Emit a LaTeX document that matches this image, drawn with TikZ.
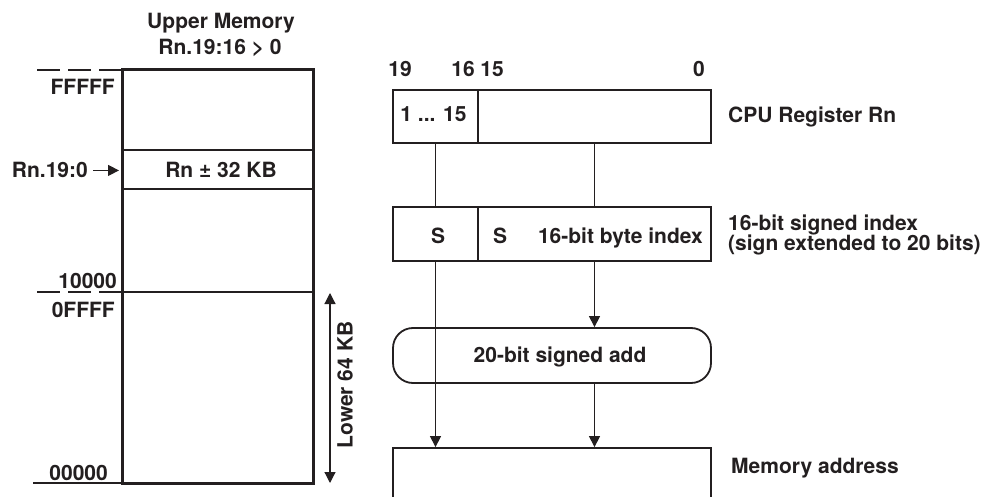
\documentclass[tikz,border=0pt]{standalone}
\usepackage{fontspec}
\setmainfont{TeX Gyre Heros}
\usetikzlibrary{arrows.meta,calc}
\definecolor{ink}{RGB}{35,31,32}
\begin{document}
\begin{tikzpicture}[x=1pt,y=-1pt,
  every node/.style={font=\fontsize{21}{24}\selectfont\bfseries, text=ink, inner sep=0pt},
  regbox/.style={draw=ink, line width=1.8pt, minimum height=53pt},
  ln/.style={draw=ink, line width=1.2pt},
  arr/.style={ln, -{Triangle[length=11pt,width=11pt]}},
  darr/.style={ln, {Triangle[length=11pt,width=11pt]}-{Triangle[length=11pt,width=11pt]}},
  dashln/.style={ln, dash pattern=on 23pt off 8pt}]
\useasboundingbox (0,0) rectangle (987,497);
\clip (0,0) rectangle (987,497);

% ---------- memory map ----------
\node[draw=ink, line width=3pt, minimum width=191pt, minimum height=413pt] (mem) at (217.5,276.5) {};
\node[draw=ink, line width=1.2pt, minimum width=191pt, minimum height=39pt] (win) at (217.5,169.5) {};
\node[anchor=base] (wint) at (221,178) {Rn ± 32 KB};
\node[anchor=base] (up1) at (221,28.5) {Upper Memory};
\node[anchor=base] (up2) at (220,55) {Rn.19:16 > 0};

\coordinate (d1) at (37,70);
\draw[dashln] (d1) -- (d1 -| mem.west);
\coordinate (d2) at (37,292);
\draw[dashln] (d2) -- (d2 -| mem.west);
\draw[ln] (mem.west |- d2) -- (mem.east |- d2);
\coordinate (d3) at (33,483);
\draw[ln] (d3) -- (d3 -| mem.west);

\node[anchor=base east] (fffff) at (115,95) {FFFFF};
\node[anchor=base east] (t10000) at (117,288) {10000};
\node[anchor=base east] (t0ffff) at (115,317) {0FFFF};
\node[anchor=base east] (t00000) at (108,480) {00000};

\node[anchor=base east] (rnl) at (88,178) {Rn.19:0};
\draw[arr, shorten <=5pt, shorten >=1.5pt] (rnl.east) -- (rnl.east -| mem.west);

\coordinate (l1) at (330,293);
\coordinate (l2) at (330,483);
\draw[darr] (l1) -- (l2);
\node[rotate=90] (low) at (345,385) {Lower 64 KB};

% ---------- register path ----------
\node[anchor=base] (b19) at (400,77) {19};
\node[anchor=base] (b16) at (463,77) {16};
\node[anchor=base] (b15) at (492,77) {15};
\node[anchor=base] (b0) at (699,77) {0};

\node[regbox, minimum width=85pt] (rh) at (435.5,116.5) {};
\node[regbox, minimum width=233pt] (rl) at (594.5,116.5) {};
\node[anchor=base] (rht) at (433.5,122) {1 ... 15};
\node[anchor=base west] (cpu) at (728,123) {CPU Register Rn};

\node[regbox, minimum width=85pt, minimum height=54pt] (ih) at (435.5,234) {};
\node[regbox, minimum width=233pt, minimum height=54pt] (il) at (594.5,234) {};
\node[anchor=base] (s1) at (438,243) {S};
\node[anchor=base] (s2) at (500,243) {S};
\node[anchor=base east] (bidx) at (703,243) {16-bit byte index};
\node[anchor=base west] (si1) at (728,230) {16-bit signed index};
\node[anchor=base west] (si2) at (728,250) {(sign extended to 20 bits)};

\node[draw=ink, line width=1.8pt, rounded corners=20pt, minimum width=318pt, minimum height=55pt] (add) at (552,355.5) {};
\node[anchor=base] (addt) at (560,362) {20-bit signed add};

\node[regbox, minimum width=318pt, minimum height=80pt] (ma) at (552,488) {};
\node[anchor=base west] (mat) at (731,473) {Memory address};

\draw[ln] (rh.south) -- (ih.north);
\draw[arr] (ih.south) -- (ih.south |- ma.north);
\draw[ln] (rl.south) -- (il.north);
\draw[arr] (il.south) -- (il.south |- add.north);
\draw[arr] (add.south -| il.south) -- (il.south |- ma.north);
\end{tikzpicture}
\end{document}
